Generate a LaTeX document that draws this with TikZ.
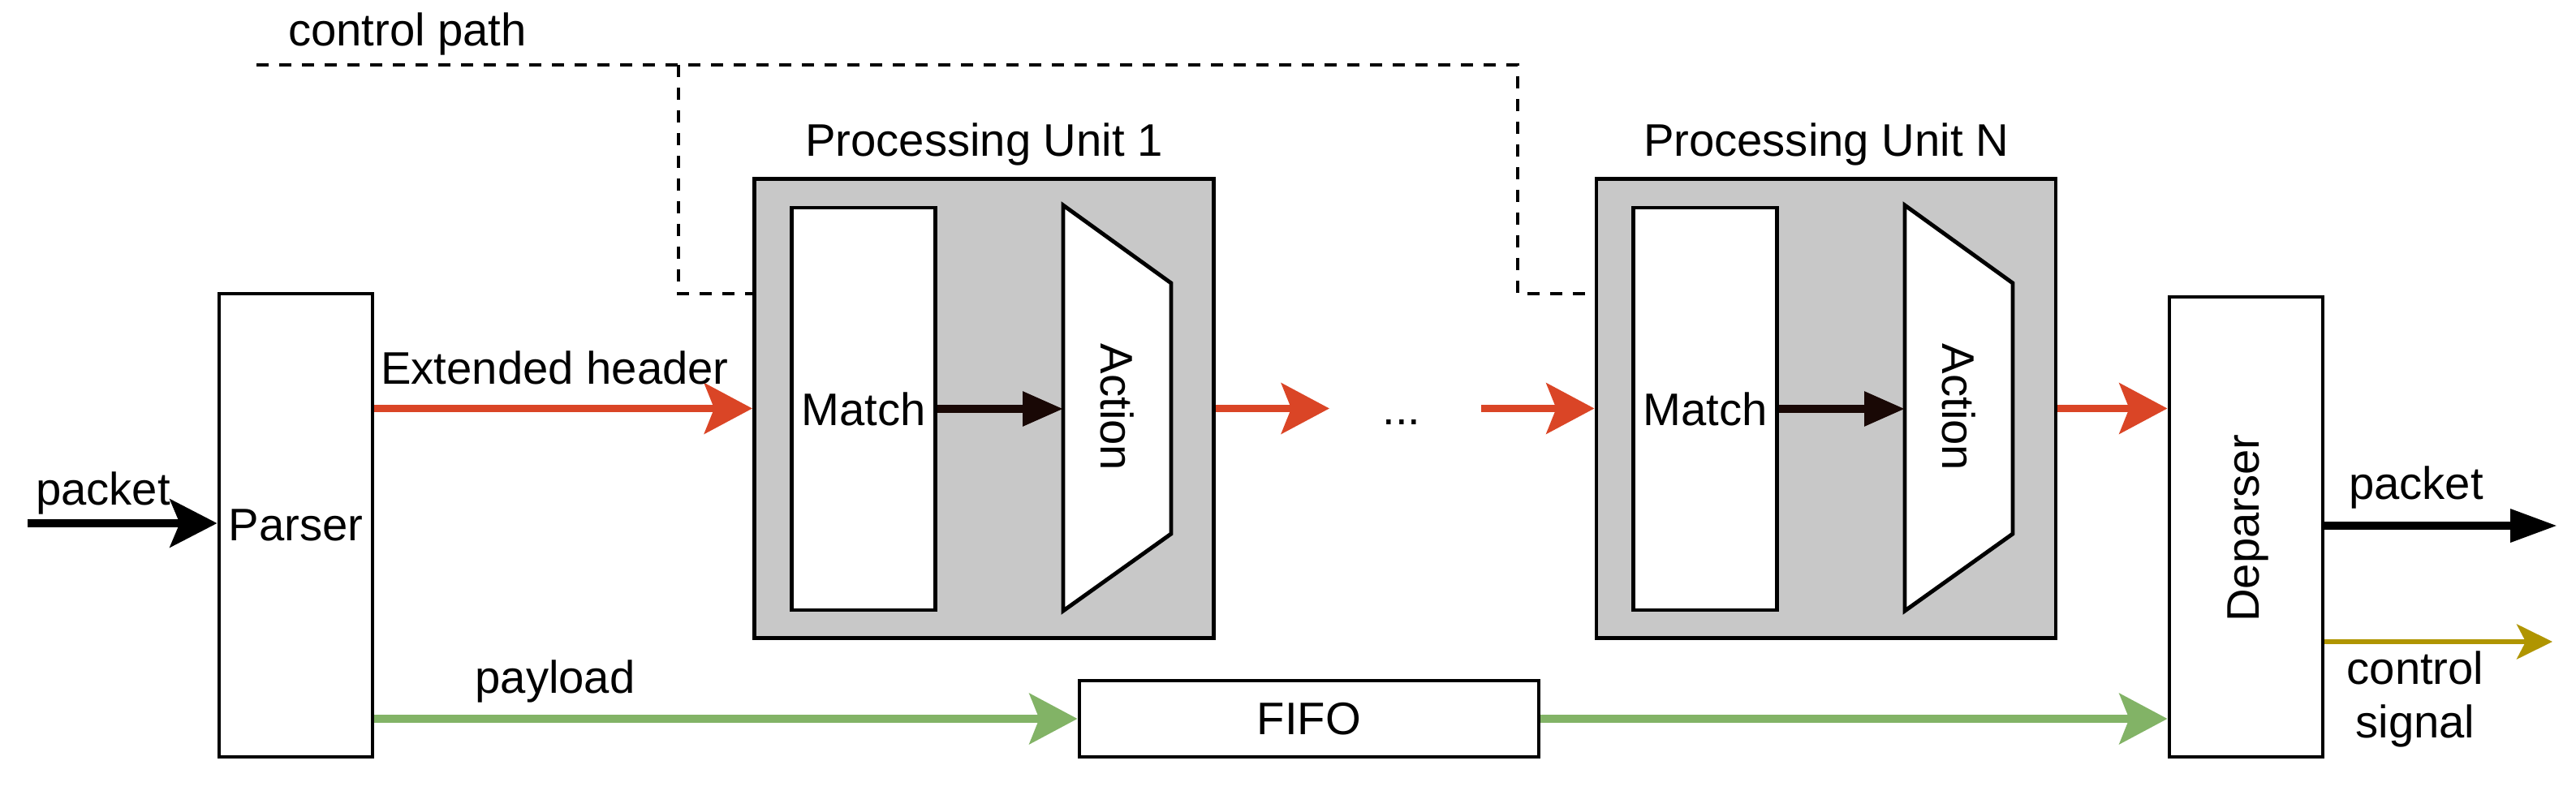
\documentclass[tikz,border=0pt]{standalone}
\usepackage{fontspec}
\setmainfont{Liberation Sans}
\usetikzlibrary{arrows.meta}
\definecolor{hdrred}{RGB}{218,69,38}
\definecolor{plgreen}{RGB}{130,179,102}
\definecolor{sigolive}{RGB}{176,149,0}
\definecolor{pugray}{RGB}{200,200,200}
\definecolor{madark}{RGB}{25,8,5}
\begin{document}
\begin{tikzpicture}[
  font=\fontsize{16pt}{19pt}\selectfont,
  blk/.style={draw, line width=1.4pt, fill=white},
  unit/.style={draw, line width=1.4pt, fill=pugray, minimum width=5.66cm, minimum height=5.66cm},
  hdr/.style={color=hdrred, line width=2.8pt, -{Stealth[length=5.9mm,width=6.2mm,inset=1.2mm]}},
  pld/.style={color=plgreen, line width=2.8pt, -{Stealth[length=5.9mm,width=6.2mm,inset=1.2mm]}},
  pkt/.style={color=black, line width=2.8pt},
  mtoa/.style={color=madark, line width=2.6pt, -{Triangle[length=5mm,width=4.1mm]}},
  ctl/.style={line width=1.4pt, dash pattern=on 1.5mm off 1.3mm},
]
\useasboundingbox (0,0) rectangle (31.74,-9.96);

\node[blk, minimum width=1.89cm, minimum height=5.71cm] (parser) at (3.645,-6.475) {Parser};
\node[blk, minimum width=1.89cm, minimum height=5.67cm] (deparser) at (27.675,-6.495) {};
\node[rotate=90] (deparsertxt) at (27.70,-6.51) {Deparser};
\node[blk, minimum width=5.66cm, minimum height=0.94cm] (fifo) at (16.13,-8.86) {FIFO};

\node[unit] (pu1) at (12.125,-5.035) {};
\node[anchor=base] (pu1lbl) at ([yshift=2.6mm]pu1.north) {Processing Unit 1};
\node[blk, minimum width=1.74cm, minimum height=4.96cm] (match1) at (10.64,-5.04) {Match};
\draw[blk] (13.10,-2.53) -- (14.43,-3.49) -- (14.43,-6.58) -- (13.10,-7.53) -- cycle;
\node[rotate=-90] (act1) at (13.77,-5.02) {Action};
\coordinate (act1in) at (13.10,-5.04);

\node[unit] (pun) at (22.50,-5.035) {};
\node[anchor=base] (punlbl) at ([yshift=2.6mm]pun.north) {Processing Unit N};
\node[blk, minimum width=1.74cm, minimum height=4.96cm] (matchn) at (21.01,-5.04) {Match};
\draw[blk] (23.47,-2.53) -- (24.80,-3.49) -- (24.80,-6.58) -- (23.47,-7.53) -- cycle;
\node[rotate=-90] (actn) at (24.14,-5.02) {Action};
\coordinate (actnin) at (23.47,-5.04);

\coordinate (ctlstart) at (3.16,-0.80);
\coordinate (ctlbranch) at (8.36,-0.80);
\coordinate (ctlend) at (18.70,-0.80);
\coordinate (tap) at (0,-3.62);
\node (ctllbl) at (5.02,-0.42) {control path};
\draw[ctl] (ctlstart) -- (ctlend) |- (pun.west |- tap);
\draw[ctl] (ctlbranch) |- (pu1.west |- tap);

\coordinate (pktin) at (0.34,-6.45);
\coordinate (pktout) at (31.51,-6.48);
\coordinate (sigout) at (31.45,-7.91);
\coordinate (dotsl) at (16.38,-5.035);
\coordinate (dotsr) at (18.25,-5.035);

\draw[pkt, -{Stealth[length=5.8mm,width=5.9mm,inset=1.2mm]}] (pktin) -- (parser.west |- pktin);
\node (pktinlbl) at (1.27,-6.08) {packet};
\draw[hdr] (parser.east |- pu1) -- (pu1.west);
\node (hdrlbl) at (6.835,-4.53) {Extended header};
\draw[mtoa] (match1) -- (act1in);
\draw[hdr] (pu1.east) -- (dotsl);
\node[anchor=base] (dots) at (17.27,-5.24) {...};
\draw[hdr] (dotsr) -- (pun.west);
\draw[mtoa] (matchn) -- (actnin);
\draw[hdr] (pun.east) -- (deparser.west |- pun.east);
\draw[pld] (parser.east |- fifo) -- (fifo.west);
\node (pldlbl) at (6.84,-8.40) {payload};
\draw[pld] (fifo.east) -- (deparser.west |- fifo.east);
\draw[pkt, -{Triangle[length=5.8mm,width=3.9mm]}] (deparser.east |- pktout) -- (pktout);
\node (pktoutlbl) at (29.77,-6.01) {packet};
\draw[color=sigolive, line width=1.7pt, -{Stealth[length=4.4mm,width=4.3mm,inset=1.1mm]}] (deparser.east |- sigout) -- (sigout);
\node[align=center] (siglbl) at (29.76,-8.62) {control\\signal};
\end{tikzpicture}
\end{document}
